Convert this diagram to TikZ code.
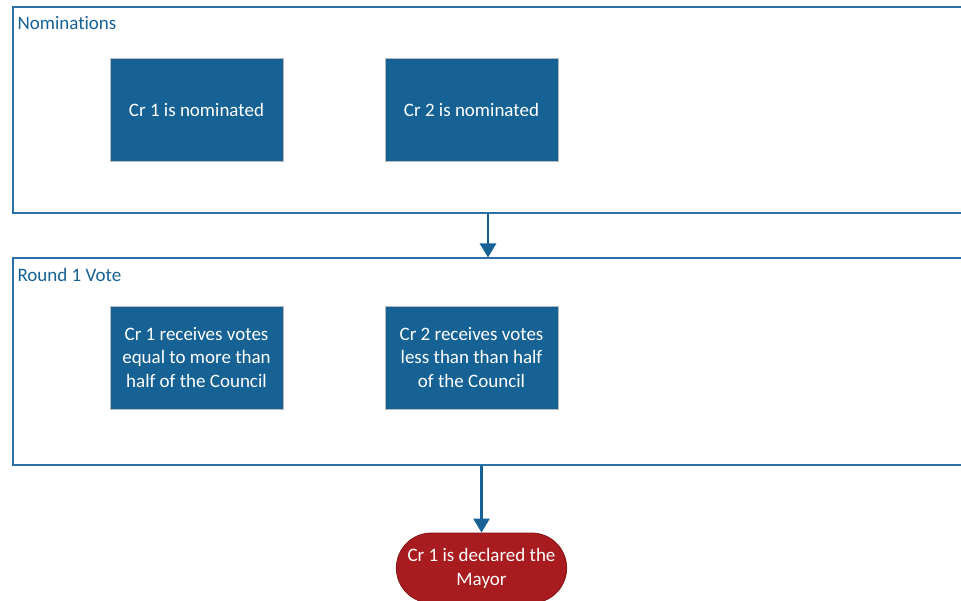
\documentclass[tikz,border=0pt]{standalone}
\usepackage{fontspec}
\setmainfont{Carlito}[Ligatures = NoCommon]
\usetikzlibrary{arrows.meta, shapes.misc}

\definecolor{stepblue}{RGB}{22, 98, 148}
\definecolor{laneblue}{RGB}{44, 112, 170}
\definecolor{endred}{RGB}{168, 27, 30}

\begin{document}
\begin{tikzpicture}[x = 1pt, y = -1pt,
    lane/.style = {draw = laneblue, line width = 2pt, minimum width = 950pt, minimum height = 206pt, inner sep = 0pt},
    lanelabel/.style = {anchor = north west, text = stepblue, font = \fontsize{19}{23}\selectfont},
    stepbox/.style = {fill = stepblue, draw = gray!55, line width = 0.8pt, text = white, minimum width = 173pt, minimum height = 103pt, align = center, font = \fontsize{19}{23.5}\selectfont},
    endbox/.style = {rounded rectangle, fill = endred, draw = endred!80!black, line width = 0.8pt, text = white, minimum width = 177pt, minimum height = 70pt, align = center, font = \fontsize{19}{24}\selectfont},
    arrow/.style = {draw = stepblue, line width = 2.6pt, -{Triangle[width = 16pt, length = 14pt]}}]
    \clip (0, 0) rectangle (961, 601);
    \fill[white] (0, 0) rectangle (961, 601);

    % nominations
    \node[lane] (nom) at (488, 110) {};
    \node[lanelabel] (nomlabel) at (nom.north west) [xshift = 2pt, yshift = -7pt] {Nominations};
    \node[stepbox] (nomone) at (196.5, 109.5) {Cr 1 is nominated};
    \node[stepbox] (nomtwo) at (471.5, 109.5) {Cr 2 is nominated};

    % first vote
    \node[lane] (vote) at (488, 361.5) {};
    \node[lanelabel] (votelabel) at (vote.north west) [xshift = 2pt, yshift = -7pt] {Round 1 Vote};
    \node[stepbox] (voteone) at (196.5, 357.5) {Cr 1 receives votes\\equal to more than\\half of the Council};
    \node[stepbox] (votetwo) at (471.5, 357.5) {Cr 2 receives votes\\less than than half\\of the Council};

    % result
    \node[endbox] (mayor) at (481.5, 568) {Cr 1 is declared the\\Mayor};

    \draw[arrow] (nom.south) -- (vote.north);
    \draw[arrow] (vote.south -| mayor.north) -- (mayor.north);
\end{tikzpicture}
\end{document}
